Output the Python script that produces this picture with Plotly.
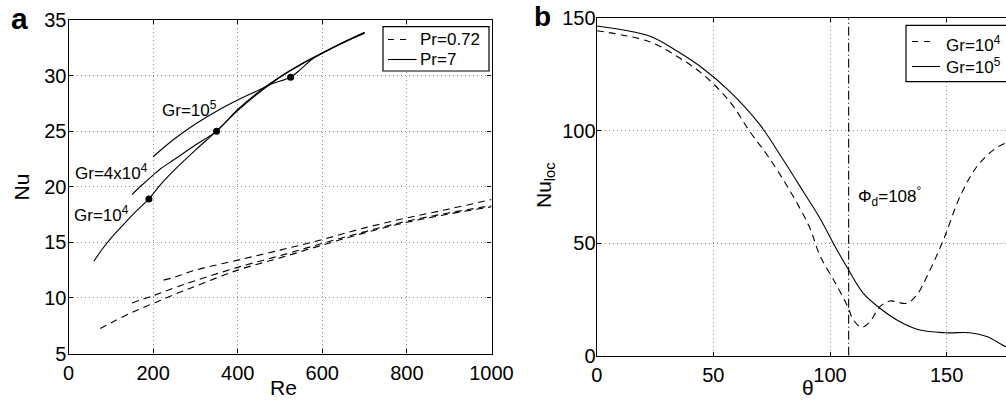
import plotly.graph_objects as go

# ---------------- panel (a): average Nu versus Re ----------------
# Pr = 7 (solid)
re_p7_gr1e4 = [60, 80, 100, 130, 160, 190, 220, 250, 300, 350, 400, 450, 500, 550, 600, 650, 700]
nu_p7_gr1e4 = [13.3, 14.4, 15.35, 16.6, 17.8, 18.9, 20.3, 21.5, 23.3, 25.0, 26.85, 28.45, 29.85, 31.0, 32.0, 33.0, 33.85]

re_p7_gr4e4 = [150, 175, 200, 217, 250, 300, 350, 400, 450, 500, 550, 600, 650, 700]
nu_p7_gr4e4 = [19.3, 20.2, 21.05, 21.6, 22.45, 23.75, 25.0, 26.95, 28.55, 29.9, 31.05, 32.05, 33.0, 33.9]

re_p7_gr1e5 = [200, 250, 300, 350, 400, 450, 480, 525, 550, 575, 600, 650, 700]
nu_p7_gr1e5 = [22.7, 24.3, 25.65, 26.8, 27.8, 28.7, 29.25, 29.85, 30.6, 31.45, 32.0, 32.95, 33.8]

# onset points marked on the Pr = 7 curves
re_dots = [190, 350, 525]
nu_dots = [18.9, 25.0, 29.85]

# Pr = 0.72 (dashed)
re_p072_gr1e4 = [75, 100, 150, 200, 250, 300, 400, 500, 600, 700, 800, 900, 1000]
nu_p072_gr1e4 = [7.25, 7.75, 8.7, 9.5, 10.3, 11.05, 12.5, 13.6, 14.75, 15.85, 16.8, 17.55, 18.2]

re_p072_gr4e4 = [150, 200, 250, 300, 400, 500, 600, 700, 800, 900, 1000]
nu_p072_gr4e4 = [9.55, 10.2, 10.9, 11.55, 12.75, 13.8, 14.9, 15.95, 16.9, 17.65, 18.3]

re_p072_gr1e5 = [225, 250, 300, 400, 500, 600, 700, 800, 900, 1000]
nu_p072_gr1e5 = [11.6, 11.85, 12.5, 13.4, 14.3, 15.25, 16.3, 17.2, 18.0, 18.85]

re_ticks = [0, 200, 400, 600, 800, 1000]
nu_ticks = [5, 10, 15, 20, 25, 30, 35]

# ---------------- panel (b): local Nu versus theta ----------------
theta_gr1e4 = [0, 22.6, 34.7, 45.4, 57.1, 65.4, 74, 82.6, 91.1, 95.7, 102.8, 107.6, 110,
               113.6, 117.1, 121.4, 125.7, 132.9, 137.2, 141.5, 148.6, 155.7, 162.9, 170, 175.5, 180]
nuloc_gr1e4 = [144.5, 139.6, 132.9, 125.2, 112.9, 100, 87.8, 73.7, 57.4, 44.5, 31.4, 21.8, 15.9,
               12.6, 15.1, 21.8, 24.3, 23.3, 27.0, 35.1, 51.4, 70.7, 84.0, 91.4, 94.7, 96.0]

theta_gr1e5 = [0, 22.6, 34.7, 45.4, 57.1, 70, 80, 88.6, 95.7, 101.4, 107.6, 114.3, 121.4,
               130, 138.5, 149.6, 160, 167.2, 175.5, 180]
nuloc_gr1e5 = [146.6, 142.1, 135.2, 127.8, 117.4, 102.6, 87.0, 72.9, 61.1, 50.0, 38.8, 27.7, 21.1,
               15.1, 11.4, 10.2, 10.2, 8.5, 4.0, 2.6]

theta_detach = 108
theta_ticks = [0, 50, 100, 150]
nuloc_ticks = [0, 50, 100, 150]

legend_a = ["Pr=0.72", "Pr=7"]
legend_b = ["Gr=10<sup>4</sup>", "Gr=10<sup>5</sup>"]

FONT = "Liberation Sans, Arial, Helvetica, sans-serif"
DASH = "7px,5px"
W = 1006
H = 400


def px(x):
    return x / W


def py(y):
    return 1 - y / H


fig = go.Figure()

line_solid = dict(color="black", width=1.1)
line_dash = dict(color="black", width=1.1, dash=DASH)

# panel (a) traces
for x, y in [(re_p072_gr1e4, nu_p072_gr1e4),
             (re_p072_gr4e4, nu_p072_gr4e4),
             (re_p072_gr1e5, nu_p072_gr1e5)]:
    fig.add_trace(go.Scatter(x=x, y=y, mode="lines", line=line_dash, line_shape="spline",
                             name=legend_a[0], showlegend=False, xaxis="x", yaxis="y"))
for x, y in [(re_p7_gr1e4, nu_p7_gr1e4),
             (re_p7_gr4e4, nu_p7_gr4e4),
             (re_p7_gr1e5, nu_p7_gr1e5)]:
    fig.add_trace(go.Scatter(x=x, y=y, mode="lines", line=line_solid, line_shape="spline",
                             name=legend_a[1], showlegend=False, xaxis="x", yaxis="y"))
fig.add_trace(go.Scatter(x=re_dots, y=nu_dots, mode="markers",
                         marker=dict(color="black", size=7), showlegend=False,
                         xaxis="x", yaxis="y"))

# panel (b) traces
fig.add_trace(go.Scatter(x=theta_gr1e4, y=nuloc_gr1e4, mode="lines", line=line_dash,
                         line_shape="spline", name=legend_b[0], showlegend=False,
                         xaxis="x2", yaxis="y2"))
fig.add_trace(go.Scatter(x=theta_gr1e5, y=nuloc_gr1e5, mode="lines", line=line_solid,
                         line_shape="spline", name=legend_b[1], showlegend=False,
                         xaxis="x2", yaxis="y2"))
fig.add_trace(go.Scatter(x=[theta_detach, theta_detach], y=[nuloc_ticks[0], nuloc_ticks[-1]],
                         mode="lines", line=dict(color="black", width=1.1, dash="9px,3px,1px,3px"),
                         showlegend=False, xaxis="x2", yaxis="y2"))

# axis geometry (pixels)
a_left, a_right, a_top, a_bot = 68.5, 491.5, 20, 353.5
b_left, b_top, b_bot = 596.7, 18.3, 355.7
b_px_per_deg = 2.333

grid = dict(showgrid=True, gridcolor="#8a8a8a", gridwidth=1, griddash="1px,3px")
axis_common = dict(showline=True, linecolor="black", linewidth=1.2, ticks="inside",
                   ticklen=4, tickcolor="black", zeroline=False,
                   tickfont=dict(family=FONT, size=20, color="black"), **grid)

fig.update_layout(
    width=W, height=H,
    margin=dict(l=0, r=0, t=0, b=0, autoexpand=False),
    paper_bgcolor="white", plot_bgcolor="white",
    font=dict(family=FONT, color="black"),
    showlegend=False,
    xaxis=dict(domain=[px(a_left), px(a_right)], range=[0, 1000], tickvals=re_ticks,
               mirror="ticks", anchor="y", ticklabelstandoff=1, **axis_common),
    yaxis=dict(domain=[py(a_bot), py(a_top)], range=[5, 35], tickvals=nu_ticks,
               mirror="ticks", anchor="x", ticklabelstandoff=-3, **axis_common),
    xaxis2=dict(domain=[px(b_left), 1.0], range=[0, (W - b_left) / b_px_per_deg],
                tickvals=theta_ticks, mirror="ticks", anchor="y2", ticklabelstandoff=1,
                **axis_common),
    yaxis2=dict(domain=[py(b_bot), py(b_top)], range=[0, 150], tickvals=nuloc_ticks,
                mirror=False, anchor="x2", ticklabelstandoff=-4, **axis_common),
)

# legend boxes drawn as shapes with text entries
shapes = [
    # panel (a) legend
    dict(type="rect", xref="paper", yref="paper", x0=px(383), x1=px(489), y0=py(71), y1=py(26.7),
         line=dict(color="black", width=1.2), fillcolor="white", layer="above"),
    dict(type="line", xref="paper", yref="paper", x0=px(388), x1=px(408), y0=py(39.5), y1=py(39.5),
         line=dict(color="black", width=1.1, dash="6px,6px"), layer="above"),
    dict(type="line", xref="paper", yref="paper", x0=px(388), x1=px(416.5), y0=py(59.5), y1=py(59.5),
         line=dict(color="black", width=1.1), layer="above"),
    # panel (b) legend (runs past the right edge)
    dict(type="rect", xref="paper", yref="paper", x0=px(906), x1=px(1030), y0=py(81.7), y1=py(25.3),
         line=dict(color="black", width=1.2), fillcolor="white", layer="above"),
    dict(type="line", xref="paper", yref="paper", x0=px(912), x1=px(935), y0=py(41.5), y1=py(41.5),
         line=dict(color="black", width=1.1, dash="6px,6px"), layer="above"),
    dict(type="line", xref="paper", yref="paper", x0=px(912), x1=px(940), y0=py(66.5), y1=py(66.5),
         line=dict(color="black", width=1.1), layer="above"),
]
fig.update_layout(shapes=shapes)

ann_font = dict(family=FONT, size=17, color="black")
title_font = dict(family=FONT, size=21, color="black")
annotations = [
    # legend entries
    dict(x=px(417.5), y=py(39.5), xref="paper", yref="paper", text=legend_a[0], xanchor="left",
         yanchor="middle", showarrow=False, font=ann_font),
    dict(x=px(417.5), y=py(59.5), xref="paper", yref="paper", text=legend_a[1], xanchor="left",
         yanchor="middle", showarrow=False, font=ann_font),
    dict(x=px(943.5), y=py(44.5), xref="paper", yref="paper", text=legend_b[0], xanchor="left",
         yanchor="middle", showarrow=False, font=ann_font),
    dict(x=px(943.5), y=py(65.5), xref="paper", yref="paper", text=legend_b[1], xanchor="left",
         yanchor="middle", showarrow=False, font=ann_font),
    # curve labels, panel (a)
    dict(x=216, y=27.0, xref="x", yref="y", text="Gr=10<sup>5</sup>", xanchor="left",
         yanchor="middle", showarrow=False, font=ann_font),
    dict(x=11, y=21.3, xref="x", yref="y", text="Gr=4x10<sup>4</sup>", xanchor="left",
         yanchor="middle", showarrow=False, font=ann_font),
    dict(x=9, y=17.55, xref="x", yref="y", text="Gr=10<sup>4</sup>", xanchor="left",
         yanchor="middle", showarrow=False, font=ann_font),
    # detachment angle, panel (b)
    dict(x=111.3, y=70.6, xref="x2", yref="y2", text="Φ<sub>d</sub>=108<sup>°</sup>",
         xanchor="left", yanchor="middle", showarrow=False, font=ann_font),
    # axis titles
    dict(x=px(283), y=py(387.5), xref="paper", yref="paper", text="Re", showarrow=False,
         xanchor="center", yanchor="middle", font=title_font),
    dict(x=px(20.5), y=py(187), xref="paper", yref="paper", text="Nu", showarrow=False,
         textangle=-90, xanchor="center", yanchor="middle", font=title_font),
    dict(x=px(808), y=py(387.5), xref="paper", yref="paper", text="θ", showarrow=False,
         xanchor="center", yanchor="middle", font=title_font),
    dict(x=px(545), y=py(185), xref="paper", yref="paper", text="Nu<sub>loc</sub>",
         showarrow=False, textangle=-90, xanchor="center", yanchor="middle", font=title_font),
    # panel letters
    dict(x=px(19.5), y=py(18), xref="paper", yref="paper", text="<b>a</b>", showarrow=False,
         xanchor="center", yanchor="middle", font=dict(family=FONT, size=30, color="black")),
    dict(x=px(542.5), y=py(17), xref="paper", yref="paper", text="<b>b</b>", showarrow=False,
         xanchor="center", yanchor="middle", font=dict(family=FONT, size=28, color="black")),
]
fig.update_layout(annotations=annotations)

fig.write_html("out.html")
